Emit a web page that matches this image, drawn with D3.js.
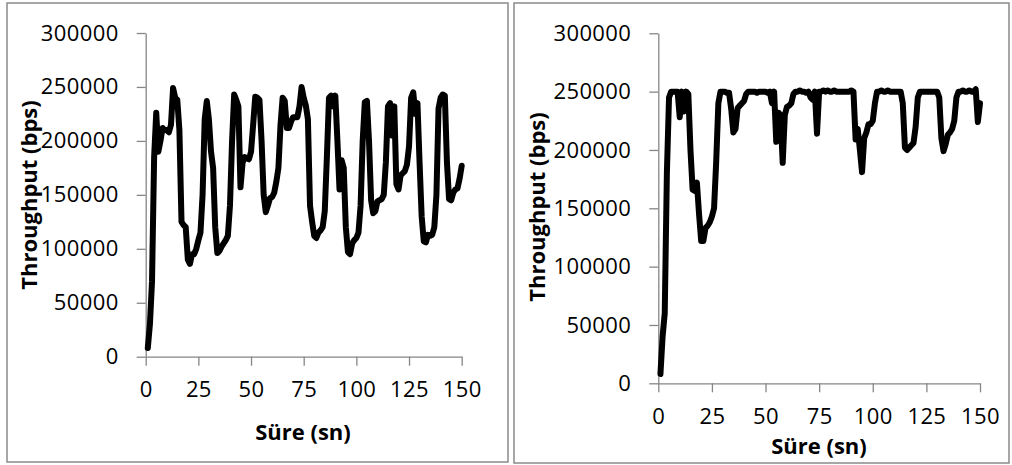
<html>
<head>
<meta charset="utf-8">
<style>
    body { margin: 0; background: #fff; }
    text { font-family: "Open Sans", "DejaVu Sans", sans-serif; fill: #000; }
    .tick text { font-size: 22px; letter-spacing: 0.4px; }
    .tick line, .domain { stroke: #868686; stroke-width: 1.3; }
    .title { font-size: 22px; font-weight: bold; }
</style>
</head>
<body>
<svg id="chart" width="1012" height="465"></svg>
<script src="https://d3js.org/d3.v7.min.js"></script>
<script>
// throughput (bps), one sample per second, t = 1..150
var leftValues = [
    8000, 30000, 70000, 185000, 226000, 190000, 200000, 212000, 210000, 210000,
    208000, 215000, 249000, 240000, 238000, 210000, 125000, 122000, 120000, 90000,
    86000, 95000, 95000, 100000, 108000, 115000, 150000, 220000, 237000, 220000,
    190000, 175000, 120000, 96000, 98000, 102000, 105000, 108000, 112000, 140000,
    200000, 243000, 238000, 232000, 157000, 180000, 185000, 184000, 183000, 190000,
    215000, 241000, 240000, 238000, 200000, 150000, 134000, 140000, 147000, 148000,
    152000, 162000, 175000, 215000, 240000, 237000, 212000, 212000, 218000, 222000,
    222000, 222000, 232000, 250000, 240000, 233000, 220000, 140000, 125000, 112000,
    110000, 115000, 117000, 120000, 135000, 185000, 240000, 242000, 232000, 242000,
    200000, 155000, 182000, 175000, 120000, 97000, 95000, 105000, 108000, 110000,
    115000, 140000, 200000, 236000, 237000, 200000, 145000, 133000, 135000, 144000,
    145000, 146000, 150000, 180000, 232000, 235000, 205000, 232000, 160000, 155000,
    168000, 170000, 172000, 178000, 195000, 240000, 245000, 225000, 235000, 180000,
    130000, 107000, 106000, 113000, 112000, 113000, 120000, 150000, 230000, 240000,
    243000, 242000, 180000, 146000, 145000, 152000, 155000, 156000, 165000, 177000
]
var rightValues = [
    8000, 40000, 60000, 180000, 245000, 250000, 250000, 250000, 250000, 228000,
    250000, 233000, 250000, 248000, 200000, 166000, 165000, 172000, 145000, 122000,
    122000, 133000, 135000, 138000, 143000, 150000, 190000, 240000, 250000, 250000,
    250000, 249000, 249000, 235000, 215000, 218000, 236000, 238000, 240000, 242000,
    248000, 250000, 250000, 250000, 250000, 249000, 250000, 250000, 250000, 250000,
    249000, 250000, 240000, 250000, 207000, 232000, 230000, 189000, 230000, 237000,
    238000, 240000, 248000, 250000, 250000, 251000, 250000, 250000, 249000, 250000,
    245000, 243000, 250000, 214000, 250000, 250000, 251000, 250000, 251000, 250000,
    250000, 251000, 250000, 250000, 250000, 250000, 250000, 250000, 250000, 251000,
    250000, 209000, 218000, 200000, 181000, 210000, 215000, 222000, 222000, 225000,
    240000, 250000, 250000, 251000, 250000, 250000, 251000, 250000, 250000, 250000,
    250000, 250000, 250000, 240000, 202000, 200000, 202000, 204000, 206000, 220000,
    245000, 250000, 250000, 250000, 250000, 250000, 250000, 250000, 250000, 250000,
    245000, 210000, 199000, 205000, 213000, 215000, 218000, 225000, 245000, 250000,
    250000, 251000, 250000, 250000, 251000, 250000, 250000, 252000, 224000, 240000
]
var xTicks = [0, 25, 50, 75, 100, 125, 150]
var yTicks = [0, 50000, 100000, 150000, 200000, 250000, 300000]
var xTitle = "Süre (sn)"
var yTitle = "Throughput (bps)"

var svg = d3.select("#chart")

var panels = [
    {values: leftValues, frame: {x: 7, y: 3, w: 501, h: 459},
     x: [145.7, 461.7], y: [356.7, 33], yTitlePos: [36.5, 195], xTitlePos: [303, 440]},
    {values: rightValues, frame: {x: 514, y: 3, w: 495, h: 460},
     x: [658.3, 980], y: [383.3, 33.3], yTitlePos: [545, 207], xTitlePos: [819, 453.5]}
]

panels.forEach(function(p) {
    svg.append("rect")
        .attr("x", p.frame.x).attr("y", p.frame.y)
        .attr("width", p.frame.w).attr("height", p.frame.h)
        .attr("fill", "none").attr("stroke", "#8a8a8a").attr("stroke-width", 1.5)

    var xScale = d3.scaleLinear().domain([0, 150]).range(p.x)
    var yScale = d3.scaleLinear().domain([0, 300000]).range(p.y)

    svg.append("g")
        .attr("transform", "translate(0," + p.y[0] + ")")
        .call(d3.axisBottom(xScale).tickValues(xTicks).tickSize(9).tickSizeOuter(0).tickPadding(16))
    svg.append("g")
        .attr("transform", "translate(" + p.x[0] + ",0)")
        .call(d3.axisLeft(yScale).tickValues(yTicks).tickFormat(d3.format("d"))
            .tickSize(9).tickSizeOuter(0).tickPadding(18))
    svg.selectAll(".tick text").attr("font-family", null).attr("font-size", null)

    var line = d3.line()
        .x(function(v, i) { return xScale(i + 1) })
        .y(function(v) { return yScale(v) })
    svg.append("path")
        .datum(p.values)
        .attr("d", line)
        .attr("fill", "none")
        .attr("stroke", "#000")
        .attr("stroke-width", 6)
        .attr("stroke-linejoin", "round")
        .attr("stroke-linecap", "round")

    svg.append("text")
        .attr("class", "title")
        .attr("text-anchor", "middle")
        .attr("transform", "translate(" + p.yTitlePos[0] + "," + p.yTitlePos[1] + ") rotate(-90)")
        .text(yTitle)
    svg.append("text")
        .attr("class", "title")
        .attr("text-anchor", "middle")
        .attr("x", p.xTitlePos[0]).attr("y", p.xTitlePos[1])
        .text(xTitle)
})
</script>
</body>
</html>
